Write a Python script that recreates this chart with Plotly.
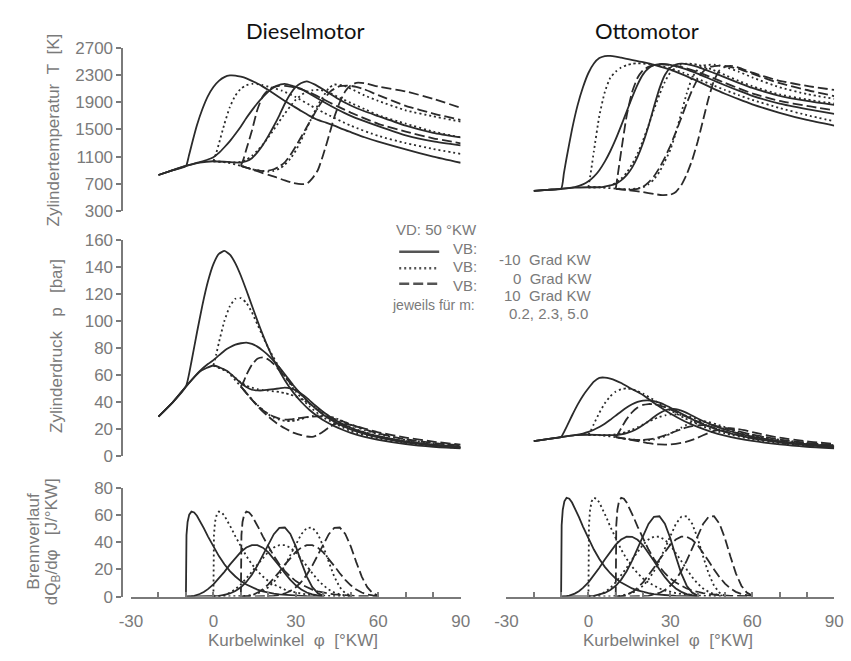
import plotly.graph_objects as go

# ---------------- data ----------------
CURVES = [(-10, 0.2), (-10, 2.3), (-10, 5.0), (0, 0.2), (0, 2.3), (0, 5.0), (10, 0.2), (10, 2.3), (10, 5.0)]

diesel_T = {
    (-10, 0.2): ([-20,-15,-10,-9,-8,-6,-4,-2,0,2,4,6,8,10,12,14,16,18,20,23,26,29,32,35,38,41,44,47,50,55,60,70,80,90],
                 [830,897,962,1100,1260,1560,1800,1990,2125,2215,2270,2294,2292,2275,2250,2215,2175,2130,2080,2000,1920,1845,1770,1700,1640,1600,1555,1505,1460,1385,1320,1205,1100,1010]),
    (-10, 2.3): ([-20,-15,-10,-5,-2,0,2,4,6,8,10,12,14,16,18,20,23,26,29,32,35,40,45,50,60,70,80,90],
                 [830,899,964,1020,1058,1092,1155,1238,1328,1433,1544,1667,1780,1885,1975,2058,2140,2169,2138,2097,2025,1907,1797,1700,1549,1414,1326,1266]),
    (-10, 5.0): ([-20,-15,-10,-5,0,5,10,12,14,16,18,20,22,24,26,28,30,32,34,37,40,45,50,55,60,70,80,90],
                 [830,899,964,1013,1032,1022,1013,1032,1077,1163,1271,1405,1550,1708,1878,2020,2126,2183,2208,2159,2087,1960,1853,1767,1696,1555,1450,1383]),
    (0, 0.2): ([0,1,2,4,6,8,10,12,14,16,18,20,25,30,35,40,50,60,70,80,90],
               [1032,1150,1290,1580,1830,2000,2100,2150,2170,2165,2150,2130,2070,1975,1860,1750,1555,1405,1300,1213,1140]),
    (0, 2.3): ([0,5,8,10,12,14,16,18,20,22,24,26,28,30,33,36,39,42,45,50,55,60,70,80,90],
               [1032,1020,1015,1023,1052,1110,1187,1278,1384,1497,1618,1734,1841,1938,2034,2076,2081,2043,1985,1890,1800,1709,1585,1469,1383]),
    (0, 5.0): ([0,5,10,15,20,22,24,26,28,30,32,34,36,38,40,42,44,47,50,55,60,70,80,90],
               [1032,1013,964,907,881,891,922,981,1069,1190,1343,1519,1691,1856,1984,2110,2160,2150,2100,2000,1920,1781,1693,1615]),
    (10, 0.2): ([10,11,12,14,16,18,20,22,24,26,28,30,35,40,45,50,55,60,70,80,90],
                [964,1068,1208,1480,1790,1990,2080,2125,2140,2140,2130,2115,2045,1945,1842,1748,1663,1583,1468,1370,1296]),
    (10, 2.3): ([10,15,18,20,22,24,26,28,30,32,34,36,38,40,43,46,49,52,55,60,70,80,90],
                [964,904,888,893,914,955,1017,1122,1253,1392,1536,1676,1817,1937,2072,2136,2145,2127,2090,2004,1847,1734,1640]),
    (10, 5.0): ([10,12,14,16,18,20,23,26,29,32,34,36,38,40,42,44,46,48,50,52,55,60,70,80,90],
                [964,939,912,885,858,831,793,750,712,695,700,780,900,1130,1400,1680,1900,2060,2150,2185,2180,2130,2060,1950,1819]),
}

diesel_p = {
    (-10, 0.2): ([-20,-15,-10,-8,-6,-4,-2,0,2,4,6,8,10,12,14,16,18,20,23,26,29,32,35,38,41,44,47,50,55,60,70,80,90],
                 [29,39.2,51.4,69.8,91.3,111.8,129.3,142.2,149.8,152,149.3,142.8,133.6,122.8,111.5,100.3,89.7,79.9,66.9,56.1,47.2,39.9,34,29.2,25.2,22,19.3,17,14,11.8,8.7,6.7,5.5]),
    (-10, 2.3): ([-20,-15,-10,-5,-2,0,2,4,6,8,10,12,14,16,18,20,23,26,29,32,35,40,45,50,60,70,80,90],
                 [29,39.2,51.4,62.8,68.1,71,74.5,78,80.5,82.5,83.5,84,83,81,78,74.5,68,60.5,52.5,45.5,39,30.5,24.2,19.6,13.6,9.9,7.7,6.3]),
    (-10, 5.0): ([-20,-15,-10,-5,0,5,10,12,14,16,18,20,22,24,26,28,30,32,34,37,40,45,50,55,60,70,80,90],
                 [29,39.2,51.4,62.4,67,62.9,54,51,49,48.5,48.5,49,49.5,50,50.5,50,48.5,46,43,37.5,32.5,25.7,20.8,17.2,14.5,10.6,8.2,6.7]),
    (0, 0.2): ([0,1,2,4,6,8,10,12,14,16,18,20,25,30,35,40,50,60,70,80,90],
               [67,75,84,100,111,116.5,117,113.5,106.5,97.5,88.5,80,62,47.5,36.5,28.5,18.3,12.6,9.3,7.2,5.8]),
    (0, 2.3): ([0,5,8,10,12,14,16,18,20,22,24,26,28,30,33,36,39,42,45,50,55,60,70,80,90],
               [67,62.8,57.8,54.5,52,50.5,49.5,48.8,48.3,47.8,47.3,46.5,45.4,44,41,37.3,33.5,29.6,26,21.2,17.5,14.6,10.8,8.3,6.7]),
    (0, 5.0): ([0,5,10,15,20,22,24,26,28,30,32,34,36,38,40,42,44,47,50,55,60,70,80,90],
               [67,62.4,51.4,39.6,30.7,28.3,26.7,25.9,25.8,26.3,27.3,28.5,29.4,30,29.9,29.1,28.2,25.8,23,19,16,11.8,9.3,7.6]),
    (10, 0.2): ([10,11,12,14,16,18,20,22,24,26,28,30,35,40,45,50,55,60,70,80,90],
                [51.4,55,60,67.5,72,73,71.5,68,63.5,58.7,53.8,49.2,39,30.8,24.6,20,16.5,13.8,10.2,7.9,6.4]),
    (10, 2.3): ([10,15,18,20,22,24,26,28,30,32,34,36,38,40,43,46,49,52,55,60,70,80,90],
                [51.4,39.5,33.9,31.1,29,27.6,26.8,27,27.6,28.2,28.7,29,29.2,29,28,26.2,24,21.8,19.7,16.6,12.2,9.5,7.7]),
    (10, 5.0): ([10,12,14,16,18,20,23,26,29,32,34,36,38,40,42,44,46,48,50,52,55,60,70,80,90],
                [51.4,46.5,41.6,37,32.8,29.1,24.2,20.4,17.2,15.4,14.3,14,15.5,18,21,23.3,24,23.7,23,21.9,20.2,17.4,13.5,10.5,8.3]),
}

otto_T = {
    (-10, 0.2): ([-20,-15,-10,-9,-8,-6,-4,-2,0,2,4,6,8,10,12,15,20,25,30,35,40,45,50,55,60,70,80,90],
                 [595,612,627,850,1080,1500,1850,2120,2330,2470,2550,2580,2582,2572,2555,2530,2490,2440,2380,2300,2210,2115,2025,1945,1870,1745,1640,1557]),
    (-10, 2.3): ([-20,-15,-10,-5,-2,0,2,4,6,8,10,12,14,16,18,20,22,24,26,28,30,35,40,45,50,55,60,70,80,90],
                 [595,612,627,652,691,737,806,901,1026,1179,1357,1556,1763,1971,2160,2310,2400,2445,2462,2462,2450,2395,2320,2235,2150,2070,1995,1880,1800,1728]),
    (-10, 5.0): ([-20,-15,-10,-5,0,5,10,12,14,16,18,20,22,24,26,28,30,32,34,36,40,45,50,55,60,70,80,90],
                 [595,612,627,645,650,652,700,751,827,938,1095,1300,1550,1834,2100,2300,2410,2455,2468,2462,2420,2345,2265,2185,2110,1995,1920,1860]),
    (0, 0.2): ([0,1,2,4,6,8,10,12,14,16,18,20,25,30,35,40,45,50,55,60,70,80,90],
               [650,900,1180,1700,2050,2260,2350,2410,2445,2465,2472,2470,2445,2400,2330,2245,2160,2080,2005,1935,1815,1710,1620]),
    (0, 2.3): ([0,5,8,10,12,14,16,18,20,22,24,26,28,30,32,34,36,38,40,45,50,55,60,70,80,90],
               [650,652,675,712,775,865,990,1146,1340,1560,1790,2010,2200,2340,2420,2458,2468,2465,2452,2385,2300,2215,2135,2015,1940,1880]),
    (0, 5.0): ([0,5,10,15,20,22,24,26,28,30,32,34,36,38,40,42,44,46,48,50,55,60,70,80,90],
               [650,645,630,620,650,695,765,875,1030,1200,1450,1740,2030,2260,2380,2440,2450,2452,2440,2420,2350,2265,2120,2020,1950]),
    (10, 0.2): ([10,11,12,14,16,18,20,22,24,26,28,30,35,40,45,50,55,60,70,80,90],
                [627,900,1180,1700,2050,2260,2370,2420,2445,2455,2455,2448,2410,2345,2265,2185,2105,2030,1920,1845,1782]),
    (10, 2.3): ([10,15,18,20,22,24,26,28,30,32,34,36,38,40,42,44,46,48,50,55,60,70,80,90],
                [627,612,625,655,720,810,935,1084,1260,1460,1670,1885,2080,2240,2350,2415,2430,2440,2435,2390,2320,2180,2080,1990]),
    (10, 5.0): ([10,15,20,24,27,30,32,34,36,38,40,42,44,46,48,50,52,55,60,70,80,90],
                [627,605,578,550,535,540,580,680,840,1050,1320,1640,1960,2220,2370,2420,2435,2410,2335,2215,2140,2081]),
}

otto_p = {
    (-10, 0.2): ([-20,-15,-10,-9,-8,-6,-4,-2,0,2,4,6,8,10,12,15,20,25,30,35,40,45,50,55,60,70,80,90],
                 [10.8,12.4,13.9,17.4,21.4,29.9,37.8,44.6,50.1,55,57.8,58,57.2,55.8,54,50.5,45.1,37.8,31.3,25.8,21.4,17.8,15,12.8,11,8.4,6.7,5.6]),
    (-10, 2.3): ([-20,-15,-10,-5,-2,0,2,4,6,8,10,12,14,16,18,20,23,26,29,32,35,40,45,50,55,60,70,80,90],
                 [10.8,12.4,13.9,15.3,16.5,17.7,19.3,21.3,23.8,26.7,29.8,32.9,35.8,38.2,40,41,41,39.5,36.8,33.6,30.3,25.2,21,17.7,15.1,13,9.9,7.9,6.5]),
    (-10, 5.0): ([-20,-15,-10,-5,0,5,10,12,14,16,18,20,22,24,26,28,30,32,34,37,40,45,50,55,60,70,80,90],
                 [10.8,12.4,13.9,15.3,15.6,15.4,15.4,15.9,16.8,18.2,20.2,22.8,25.7,28.8,31.5,33.6,34.6,34.6,33.5,30.8,27.7,23.1,19.5,16.6,14.3,10.9,8.7,7.2]),
    (0, 0.2): ([0,1,2,4,6,8,10,12,14,16,18,20,25,30,35,40,45,50,60,70,80,90],
               [15.6,19.2,23.6,31.9,38.9,44.1,47.6,49.4,50,49.4,48,46.1,40.1,33.8,28.2,23.5,19.6,16.6,12.2,9.3,7.4,6.1]),
    (0, 2.3): ([0,5,8,10,12,14,16,18,20,22,24,26,28,30,33,36,39,42,45,50,55,60,70,80,90],
               [15.6,15.3,15.4,15.8,16.6,17.7,19.3,21.1,23.2,25.3,27.2,28.8,30,30.7,30.7,29.6,27.8,25.5,23.2,19.7,16.8,14.5,11.1,8.8,7.3]),
    (0, 5.0): ([0,5,10,15,20,22,24,26,28,30,32,34,36,38,40,42,44,47,50,55,60,70,80,90],
               [15.6,15.1,13.8,12.3,11.5,11.6,12.1,13.1,14.5,16.4,18.6,20.9,23,24.7,25.6,25.7,25,23.3,21.2,18,15.5,11.9,9.5,7.9]),
    (10, 0.2): ([10,11,12,14,16,18,20,22,24,26,28,30,35,40,45,50,55,60,70,80,90],
                [13.8,16.9,20.5,27.2,32.3,35.8,37.7,38.4,38.3,37.4,36,34.4,29.8,25.3,21.4,18.1,15.5,13.4,10.2,8.2,6.8]),
    (10, 2.3): ([10,15,18,20,22,24,26,28,30,32,34,36,38,40,43,46,49,52,55,60,70,80,90],
                [13.8,12.2,11.7,11.7,12.1,12.8,13.9,15.2,16.7,18.2,19.7,21,22,22.6,22.8,22.3,21.1,19.7,18.1,15.7,12,9.6,7.9]),
    (10, 5.0): ([10,15,20,22,24,26,28,30,32,34,36,38,40,42,44,46,48,50,52,54,57,60,70,80,90],
                [13.8,12,10.2,9.4,8.8,8.4,8.3,8.4,8.9,9.6,10.5,11.8,13.4,15.2,16.9,18.4,19.5,20.2,20.5,20.1,19,17.5,13.4,10.7,8.8]),
}

# heat release: angle after start of combustion and rate [J/°KW] for each m
burn_offset = [0,0.02,0.2,0.6,1.2,2,3,4,5,6.5,8,10,12,14,16,18,20,22,24,26,28,30,32,34,36,38,40,42,44,46,48,50]
diesel_Q = {
    0.2: [0,28.7,45.2,54.9,60.3,62.5,61.9,59.5,56.2,50.4,44.3,36.6,29.8,23.8,18.8,14.8,11.4,8.9,6.8,5.2,3.9,2.9,2.2,1.6,1.2,0.9,0.7,0.5,0.3,0.3,0.2,0.2],
    2.3: [0,0,0,0,0.1,0.3,0.6,1.1,1.9,3.4,5.5,9,13.3,18.2,23.5,28.5,32.9,36.1,37.9,37.8,36,32.5,27.8,22.5,17.2,12.3,8.3,5.2,3,1.6,0.9,0.3],
    5.0: [0,0,0,0,0,0,0,0,0,0,0.1,0.3,0.5,1.2,2.3,4.1,6.9,10.8,16.1,22.8,30.6,38.8,45.9,50.5,50.8,46.1,36.9,25.4,14.7,6.9,2.5,0.7],
}
otto_Q = {
    0.2: [0,33.4,52.5,63.8,70.1,72.7,72,69.2,65.3,58.6,51.5,42.6,34.6,27.7,21.9,17.2,13.3,10.3,7.9,6,4.5,3.4,2.6,1.9,1.4,1.1,0.8,0.6,0.4,0.3,0.2,0.2],
    2.3: [0,0,0,0,0.1,0.3,0.7,1.3,2.2,4,6.4,10.5,15.5,21.2,27.3,33.1,38.2,42,44.1,44,41.8,37.8,32.3,26.2,20,14.3,9.6,6,3.5,1.9,1,0.4],
    5.0: [0,0,0,0,0,0,0,0,0,0,0.1,0.3,0.6,1.4,2.7,4.8,8,12.5,18.7,26.5,35.6,45.1,53.4,58.7,59.1,53.6,42.9,29.5,17.1,8,2.9,0.8],
}

x_ticks = [-30, 0, 30, 60, 90]
x_ticklabels = ['-30', '0', '30', '60', '90']

# ---------------- figure ----------------
DASH = {-10: 'solid', 0: '2px,3px', 10: '10px,4px'}
LC = '#2b2b2b'
W, H = 851, 661
def fx(px): return px / W
def fy(py): return 1 - py / H

fig = go.Figure()
panels = [(0, diesel_T, diesel_p, diesel_Q), (1, otto_T, otto_p, otto_Q)]
for c, Tset, pset, Qset in panels:
    for vb, m in CURVES:
        for row, dset in ((0, Tset), (1, pset)):
            xs, ys = dset[(vb, m)]
            n = c * 3 + row + 1
            fig.add_trace(go.Scatter(x=xs, y=ys, mode='lines',
                                     line=dict(color=LC, width=1.8, dash=DASH[vb], shape='spline', smoothing=0.5),
                                     xaxis=f'x{n}', yaxis=f'y{n}', showlegend=False, hoverinfo='skip'))
        n = c * 3 + 3
        fig.add_trace(go.Scatter(x=[vb + o for o in burn_offset], y=Qset[m], mode='lines',
                                 line=dict(color=LC, width=1.8, dash=DASH[vb]),
                                 xaxis=f'x{n}', yaxis=f'y{n}', showlegend=False, hoverinfo='skip'))

GRAY = '#7a7a7a'
FONT = 'Liberation Sans, Arial, sans-serif'
xdom = [[fx(122), fx(460)], [fx(507), fx(843)]]
ydom = [[fy(208), fy(40)], [fy(460), fy(238)], [fy(605), fy(493)]]
yr = [[300, 2700], [0, 160], [0, 80]]
lay = dict(width=W, height=H, margin=dict(l=0, r=0, t=0, b=0),
           paper_bgcolor='white', plot_bgcolor='white', showlegend=False)
for c in range(2):
    for row in range(3):
        n = c * 3 + row + 1
        xa = dict(domain=xdom[c], range=[-30, 90], anchor=f'y{n}', showgrid=False, zeroline=False)
        if row == 2:
            xa.update(showline=True, linecolor=GRAY, linewidth=1.5, ticks='inside', ticklen=5,
                      tickcolor=GRAY, tickwidth=1.5, tickvals=x_ticks, ticktext=x_ticklabels,
                      minor=dict(dtick=10, tick0=0, ticks='inside', ticklen=5, tickcolor=GRAY, tickwidth=1.5),
                      tickfont=dict(family=FONT, size=17, color=GRAY), ticklabelstandoff=8)
        else:
            xa.update(visible=False)
        ya = dict(domain=ydom[row], range=yr[row], showgrid=False, zeroline=False)
        if c == 0:
            step = [400, 20, 20][row]
            ya.update(anchor='free', position=fx(113), showline=True, linecolor=GRAY, linewidth=1.5,
                      ticks='outside', ticklen=5, tickcolor=GRAY, tickwidth=1.5,
                      tickvals=list(range(yr[row][0], yr[row][1] + 1, step)),
                      tickfont=dict(family=FONT, size=17, color=GRAY))
        else:
            ya.update(visible=False)
        lay['xaxis' if n == 1 else f'xaxis{n}'] = xa
        lay['yaxis' if n == 1 else f'yaxis{n}'] = ya
fig.update_layout(**lay)

def ann(text, x, y, size=17, color=GRAY, angle=0, family=FONT, xanchor='center'):
    fig.add_annotation(text=text, x=fx(x), y=fy(y), xref='paper', yref='paper', showarrow=False,
                       textangle=angle, font=dict(family=family, size=size, color=color),
                       xanchor=xanchor, yanchor='middle')

NB = '\u00a0'
ann('Dieselmotor', 300, 22, size=22, color='#111', family='Lato, Open Sans, sans-serif')
ann('Ottomotor', 651, 22, size=22, color='#111', family='Lato, Open Sans, sans-serif')
ann(f'Zylindertemperatur{NB*2}T{NB*2}[K]', 42, 124, angle=-90)
ann(f'Zylinderdruck{NB*3}p{NB*3}[bar]', 45, 347, angle=-90)
ann('Brennverlauf', 22, 548, angle=-90)
ann(f'dQ<sub>B</sub>/dφ{NB*3}[J/°KW]', 42, 548, angle=-90)
ann(f'Kurbelwinkel{NB*2}φ{NB*2}[°KW]', 288, 650)
ann(f'Kurbelwinkel{NB*2}φ{NB*2}[°KW]', 673, 650)
# legend block
ann('VD: 50 °KW', 435, 227, size=15)
for yy in (247, 265, 285):
    ann('VB:', 479, yy, size=15, xanchor='right')
ann('jeweils für m:', 432, 305, size=14)
ann(f'-10{NB*2}Grad KW', 597, 258, size=15, xanchor='right')
ann(f'0{NB*2}Grad KW', 597, 277, size=15, xanchor='right')
ann(f'10{NB*2}Grad KW', 597, 295, size=15, xanchor='right')
ann('0.2, 2.3, 5.0', 550, 313, size=15)
for yy, d in ((250, 'solid'), (267, '2px,3px'), (283, '10px,4px')):
    fig.add_shape(type='line', xref='paper', yref='paper', x0=fx(397), x1=fx(438), y0=fy(yy), y1=fy(yy),
                  line=dict(color='#555', width=2.5, dash=d))

fig.write_html('out.html', config={'displayModeBar': False}, post_script="document.body.style.margin='0px';")
